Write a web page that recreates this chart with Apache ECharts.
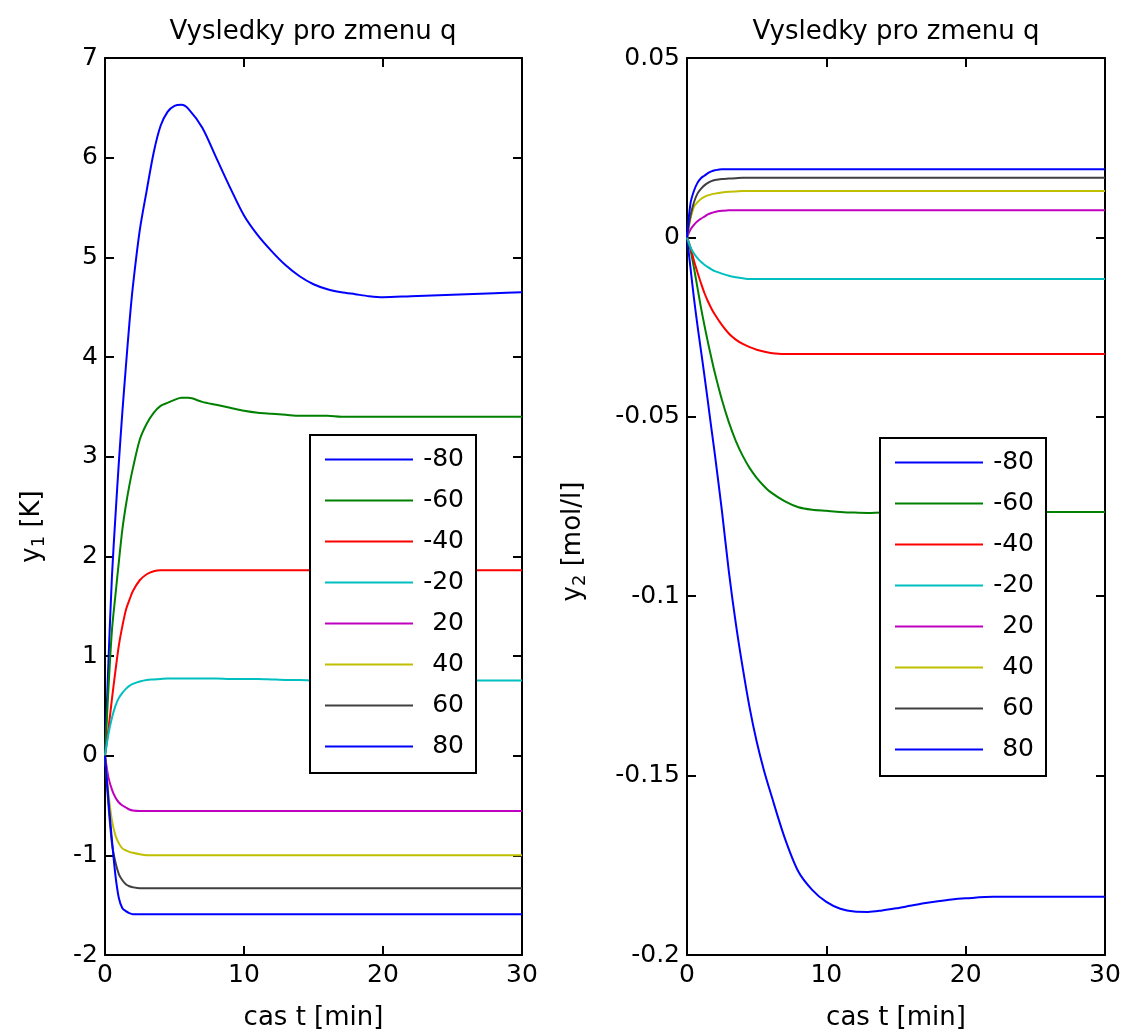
<!DOCTYPE html>
<html>
<head>
<meta charset="utf-8">
<script src="https://cdn.jsdelivr.net/npm/echarts@6/dist/echarts.min.js"></script>
<style>
  html, body { margin: 0; padding: 0; background: #fff; }
  #main { width: 1126px; height: 1034px; }
</style>
</head>
<body>
<div id="main"></div>
<script>
// cas t [min]
var time = [0, 0.25, 0.5, 0.75, 1, 1.25, 1.5, 1.75, 2, 2.5, 3, 3.5, 4, 4.5, 5, 5.5, 6,
            7, 8, 9, 10, 11, 12, 13, 14, 15, 16, 17, 18, 19, 20, 22, 24, 26, 28, 30];

var qLabels = ['-80', '-60', '-40', '-20', '20', '40', '60', '80'];
var colors = ['#0000ff', '#008000', '#ff0000', '#00bfbf', '#bf00bf', '#bfbf00', '#404040', '#0000ff'];

// y1 [K]
var y1_m80 = [0, 0.95, 1.8, 2.4, 2.95, 3.45, 3.9, 4.33, 4.7, 5.27, 5.67, 6.05, 6.32, 6.46, 6.52, 6.53, 6.49,
              6.3, 6.0, 5.7, 5.42, 5.22, 5.06, 4.92, 4.81, 4.73, 4.68, 4.65, 4.63, 4.61, 4.6, 4.61, 4.62, 4.63, 4.64, 4.65];
var y1_m60 = [0, 0.68, 1.26, 1.61, 1.95, 2.27, 2.51, 2.71, 2.88, 3.17, 3.33, 3.44, 3.51, 3.54, 3.57, 3.59, 3.59,
              3.55, 3.52, 3.49, 3.46, 3.44, 3.43, 3.42, 3.41, 3.41, 3.41, 3.4, 3.4, 3.4, 3.4, 3.4, 3.4, 3.4, 3.4, 3.4];
var y1_m40 = [0, 0.27, 0.57, 0.85, 1.11, 1.3, 1.46, 1.56, 1.65, 1.76, 1.82, 1.85, 1.86, 1.86, 1.86, 1.86, 1.86,
              1.86, 1.86, 1.86, 1.86, 1.86, 1.86, 1.86, 1.86, 1.86, 1.86, 1.86, 1.86, 1.86, 1.86, 1.86, 1.86, 1.86, 1.86, 1.86];
var y1_m20 = [0, 0.22, 0.38, 0.5, 0.58, 0.63, 0.67, 0.7, 0.72, 0.745, 0.76, 0.765, 0.77, 0.775, 0.775, 0.775, 0.775,
              0.775, 0.775, 0.77, 0.77, 0.77, 0.765, 0.76, 0.76, 0.755, 0.755, 0.755, 0.755, 0.755, 0.755, 0.755, 0.755, 0.755, 0.755, 0.755];
var y1_p20 = [0, -0.22, -0.34, -0.42, -0.47, -0.5, -0.52, -0.54, -0.55, -0.555, -0.555, -0.555, -0.555, -0.555, -0.555, -0.555, -0.555,
              -0.555, -0.555, -0.555, -0.555, -0.555, -0.555, -0.555, -0.555, -0.555, -0.555, -0.555, -0.555, -0.555, -0.555, -0.555, -0.555, -0.555, -0.555, -0.555];
var y1_p40 = [0, -0.38, -0.65, -0.8, -0.88, -0.93, -0.95, -0.965, -0.975, -0.99, -1.0, -1.0, -1.0, -1.0, -1.0, -1.0, -1.0,
              -1.0, -1.0, -1.0, -1.0, -1.0, -1.0, -1.0, -1.0, -1.0, -1.0, -1.0, -1.0, -1.0, -1.0, -1.0, -1.0, -1.0, -1.0, -1.0];
var y1_p60 = [0, -0.5, -0.88, -1.07, -1.19, -1.25, -1.29, -1.31, -1.32, -1.33, -1.33, -1.33, -1.33, -1.33, -1.33, -1.33, -1.33,
              -1.33, -1.33, -1.33, -1.33, -1.33, -1.33, -1.33, -1.33, -1.33, -1.33, -1.33, -1.33, -1.33, -1.33, -1.33, -1.33, -1.33, -1.33, -1.33];
var y1_p80 = [0, -0.45, -0.85, -1.2, -1.43, -1.53, -1.56, -1.58, -1.59, -1.59, -1.59, -1.59, -1.59, -1.59, -1.59, -1.59, -1.59,
              -1.59, -1.59, -1.59, -1.59, -1.59, -1.59, -1.59, -1.59, -1.59, -1.59, -1.59, -1.59, -1.59, -1.59, -1.59, -1.59, -1.59, -1.59, -1.59];

// y2 [mol/l]
var y2_m80 = [0, -0.0085, -0.017, -0.0245, -0.0315, -0.0385, -0.0458, -0.0532, -0.0605, -0.076, -0.093, -0.1075, -0.12, -0.1312, -0.1405, -0.1482, -0.1548,
              -0.1672, -0.1768, -0.1819, -0.1852, -0.1871, -0.1879, -0.188, -0.1876, -0.187, -0.1863, -0.1856, -0.185, -0.1845, -0.1842, -0.1838, -0.1838, -0.1838, -0.1838, -0.1838];
var y2_m60 = [0, -0.0035, -0.0085, -0.014, -0.0195, -0.0245, -0.0292, -0.0336, -0.0378, -0.0452, -0.0515, -0.0567, -0.0609, -0.0643, -0.067, -0.0692, -0.071,
              -0.0735, -0.0752, -0.0759, -0.0762, -0.0765, -0.0767, -0.0768, -0.0767, -0.0767, -0.0766, -0.0766, -0.0765, -0.0765, -0.0765, -0.0765, -0.0765, -0.0765, -0.0765, -0.0765];
var y2_m40 = [0, -0.0028, -0.0065, -0.0097, -0.0127, -0.0155, -0.0178, -0.0198, -0.0215, -0.0244, -0.0268, -0.0285, -0.0297, -0.0306, -0.0313, -0.0318, -0.0322,
              -0.0325, -0.0325, -0.0325, -0.0325, -0.0325, -0.0325, -0.0325, -0.0325, -0.0325, -0.0325, -0.0325, -0.0325, -0.0325, -0.0325, -0.0325, -0.0325, -0.0325, -0.0325, -0.0325];
var y2_m20 = [0, -0.0027, -0.0045, -0.0058, -0.0068, -0.0076, -0.0083, -0.0089, -0.0094, -0.0101, -0.0107, -0.0111, -0.0114, -0.0116, -0.0116, -0.0116, -0.0116,
              -0.0116, -0.0116, -0.0116, -0.0116, -0.0116, -0.0116, -0.0116, -0.0116, -0.0116, -0.0116, -0.0116, -0.0116, -0.0116, -0.0116, -0.0116, -0.0116, -0.0116, -0.0116, -0.0116];
var y2_p20 = [0, 0.0022, 0.0035, 0.0045, 0.0052, 0.0058, 0.0064, 0.0068, 0.0071, 0.0074, 0.0076, 0.0076, 0.0076, 0.0076, 0.0076, 0.0076, 0.0076,
              0.0076, 0.0076, 0.0076, 0.0076, 0.0076, 0.0076, 0.0076, 0.0076, 0.0076, 0.0076, 0.0076, 0.0076, 0.0076, 0.0076, 0.0076, 0.0076, 0.0076, 0.0076, 0.0076];
var y2_p40 = [0, 0.0052, 0.0085, 0.0098, 0.0107, 0.0113, 0.0117, 0.012, 0.0122, 0.0125, 0.0127, 0.0128, 0.0129, 0.0129, 0.0129, 0.0129, 0.0129,
              0.0129, 0.0129, 0.0129, 0.0129, 0.0129, 0.0129, 0.0129, 0.0129, 0.0129, 0.0129, 0.0129, 0.0129, 0.0129, 0.0129, 0.0129, 0.0129, 0.0129, 0.0129, 0.0129];
var y2_p60 = [0, 0.006, 0.0098, 0.0122, 0.0135, 0.0145, 0.0152, 0.0157, 0.016, 0.0163, 0.0164, 0.0165, 0.0166, 0.0166, 0.0166, 0.0166, 0.0166,
              0.0166, 0.0166, 0.0166, 0.0166, 0.0166, 0.0166, 0.0166, 0.0166, 0.0166, 0.0166, 0.0166, 0.0166, 0.0166, 0.0166, 0.0166, 0.0166, 0.0166, 0.0166, 0.0166];
var y2_p80 = [0, 0.0095, 0.013, 0.0152, 0.0165, 0.0172, 0.0179, 0.0184, 0.0187, 0.019, 0.019, 0.019, 0.019, 0.019, 0.019, 0.019, 0.019,
              0.019, 0.019, 0.019, 0.019, 0.019, 0.019, 0.019, 0.019, 0.019, 0.019, 0.019, 0.019, 0.019, 0.019, 0.019, 0.019, 0.019, 0.019, 0.019];

var y1Sets = [y1_m80, y1_m60, y1_m40, y1_m20, y1_p20, y1_p40, y1_p60, y1_p80];
var y2Sets = [y2_m80, y2_m60, y2_m40, y2_m20, y2_p20, y2_p40, y2_p60, y2_p80];

var FONT = 'DejaVu Sans';
var black = '#000';

function xAx(grid, pos, withLabel) {
  return {
    gridIndex: grid, type: 'value', position: pos, min: 0, max: 30, interval: 10,
    axisLine: { onZero: false, lineStyle: { color: black, width: 2 } },
    axisTick: { inside: true, length: 9, lineStyle: { color: black, width: 2 } },
    axisLabel: { show: withLabel, fontSize: 25, color: black, fontFamily: FONT, margin: 8 },
    splitLine: { show: false },
    name: withLabel ? 'cas t [min]' : '',
    nameLocation: 'middle', nameGap: 50,
    nameTextStyle: { fontSize: 26, color: black, fontFamily: FONT }
  };
}

// shift: moves the rotated axis name down the screen by half its value
function yAx(grid, pos, withLabel, min, max, step, name, gap, shift) {
  return {
    gridIndex: grid, type: 'value', position: pos, min: min, max: max, interval: step,
    axisLine: { onZero: false, lineStyle: { color: black, width: 2 } },
    axisTick: { inside: true, length: 9, lineStyle: { color: black, width: 2 } },
    axisLabel: {
      show: withLabel, fontSize: 25, color: black, fontFamily: FONT, margin: 7,
      formatter: function (v) { return String(+v.toFixed(2)); }
    },
    splitLine: { show: false },
    name: withLabel ? name : '',
    nameLocation: 'middle', nameGap: gap, nameRotate: 90,
    nameTextStyle: {
      fontSize: 26, color: black, fontFamily: FONT, padding: [0, shift || 0, 0, 0],
      rich: {
        a: { fontSize: 26, color: black, fontFamily: FONT },
        s: { fontSize: 18, color: black, fontFamily: FONT, padding: [14, 0, 0, 0] }
      }
    }
  };
}

function legendAt(left, top) {
  return {
    data: qLabels, orient: 'vertical', left: left, top: top,
    padding: [12, 12, 14, 15], itemWidth: 88, itemHeight: 2, itemGap: 16,
    icon: 'rect',
    borderColor: black, borderWidth: 2, backgroundColor: '#fff',
    selectedMode: false,
    formatter: function (name) { return '{r|' + name + '}'; },
    textStyle: {
      fontSize: 25, color: black, fontFamily: FONT, lineHeight: 25,
      rich: { r: { width: 46, align: 'right', fontSize: 25, lineHeight: 25, color: black, fontFamily: FONT } }
    }
  };
}

var series = [];
qLabels.forEach(function (q, k) {
  series.push({
    name: q, type: 'line', xAxisIndex: 0, yAxisIndex: 0,
    data: time.map(function (t, i) { return [t, y1Sets[k][i]]; }),
    symbol: 'none', smooth: 0.3,
    lineStyle: { color: colors[k], width: 2 }, itemStyle: { color: colors[k] }
  });
});
qLabels.forEach(function (q, k) {
  series.push({
    name: q, type: 'line', xAxisIndex: 2, yAxisIndex: 2,
    data: time.map(function (t, i) { return [t, y2Sets[k][i]]; }),
    symbol: 'none', smooth: 0.3,
    lineStyle: { color: colors[k], width: 2 }, itemStyle: { color: colors[k] }
  });
});

var chart = echarts.init(document.getElementById('main'));
chart.setOption({
  animation: false,
  backgroundColor: '#fff',
  title: [
    { text: 'Vysledky pro zmenu q', left: 313, top: 19, textAlign: 'center', padding: 0,
      textStyle: { fontSize: 26, fontWeight: 'normal', color: black, fontFamily: FONT } },
    { text: 'Vysledky pro zmenu q', left: 896, top: 19, textAlign: 'center', padding: 0,
      textStyle: { fontSize: 26, fontWeight: 'normal', color: black, fontFamily: FONT } }
  ],
  grid: [
    { left: 105, top: 58, width: 417, height: 897, outerBoundsMode: 'none' },
    { left: 687, top: 58, width: 418, height: 897, outerBoundsMode: 'none' }
  ],
  xAxis: [xAx(0, 'bottom', true), xAx(0, 'top', false), xAx(1, 'bottom', true), xAx(1, 'top', false)],
  yAxis: [
    yAx(0, 'left', true, -2, 7, 1, '{a|y}{s|1}{a| [K]}', 57, 40),
    yAx(0, 'right', false, -2, 7, 1, '', 0),
    yAx(1, 'left', true, -0.2, 0.05, 0.05, '{a|y}{s|2}{a| [mol/l]}', 98, 70),
    yAx(1, 'right', false, -0.2, 0.05, 0.05, '', 0)
  ],
  legend: [legendAt(310, 435), legendAt(880, 438)],
  series: series
});
</script>
</body>
</html>
